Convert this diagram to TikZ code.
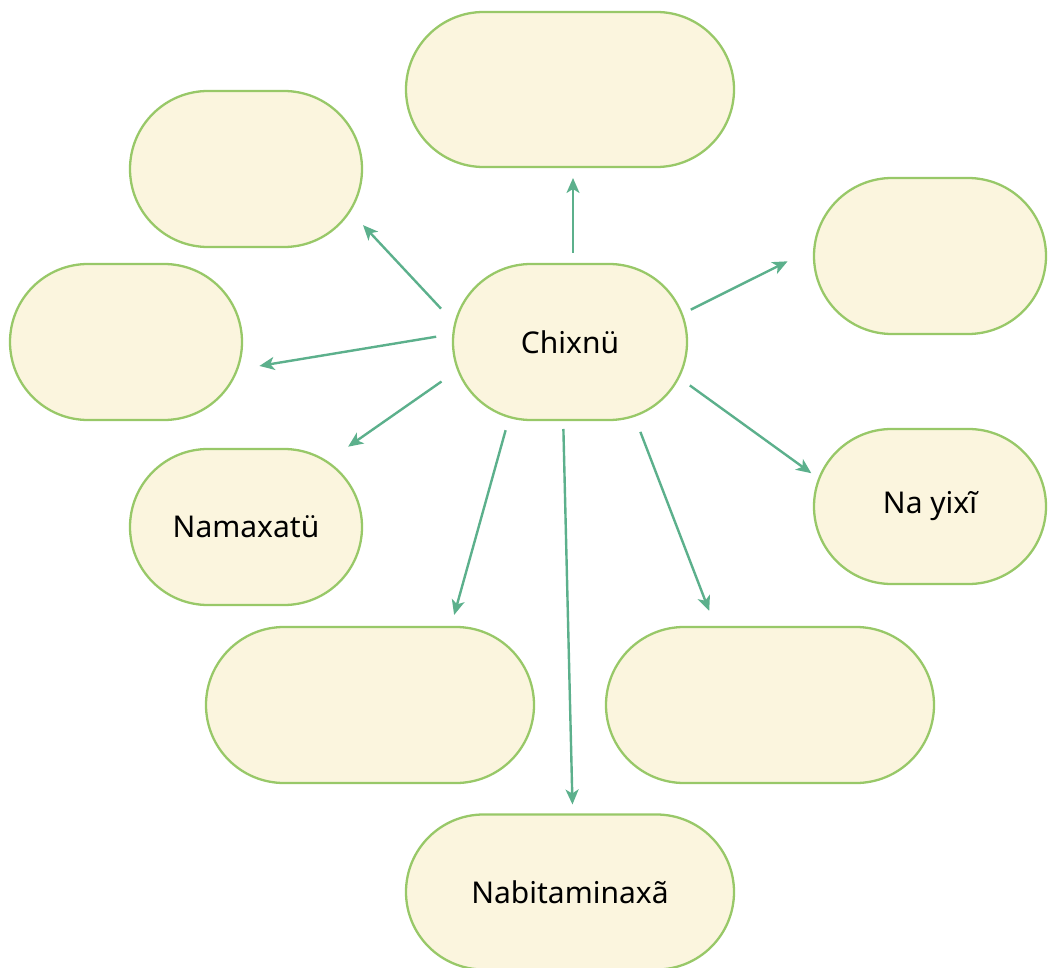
\documentclass[tikz,border=0pt]{standalone}
\usepackage{fontspec}
\setmainfont{Noto Sans}
\usetikzlibrary{shapes.misc,arrows.meta}
\definecolor{bubbleline}{RGB}{152,200,104}
\definecolor{bubblefill}{RGB}{251,245,222}
\definecolor{linkcol}{RGB}{92,176,140}
\begin{document}
\begin{tikzpicture}[x=1pt, y=-1pt,
    bubble/.style={rounded rectangle, draw=bubbleline, fill=bubblefill,
        line width=2.3pt, minimum height=156pt, minimum width=232pt,
        inner sep=0pt, outer sep=0pt, font=\fontsize{30}{33}\selectfont},
    link/.style={draw=linkcol, line width=2.4pt,
        -{Stealth[length=15pt, width=13pt, inset=4pt]}}]
        \useasboundingbox (0,0) rectangle (1050,968);
        % Centre
        \node[bubble, minimum width=234pt] (chixnu) at (570,342) {Chixnü};
        % Around it
        \node[bubble, minimum width=328pt, minimum height=155pt] (top) at (570,89.5) {};
        \node[bubble] (upleft) at (246,169) {}; \node[bubble] (left) at (126,342) {};
        \node[bubble] (namax) at (246,527) {Namaxatü};
        \node[bubble] (rtop) at (930,256) {};
        \node[bubble, minimum height=155pt] (nayixi) at (930,506.5) {Na yixĩ};
        \node[bubble, minimum width=328pt] (botleft) at (370,705) {};
        \node[bubble, minimum width=328pt] (botright) at (770,705) {};
        \node[bubble, minimum width=328pt, minimum height=155pt] (bottom) at (570,892)
        {Nabitaminaxã};

        \draw[link, shorten <=11pt, shorten >=11pt] ([xshift=3pt]chixnu.north) -- ([xshift=3pt]top.south);
        \draw[link, shorten <=20.7pt, shorten >=19.4pt] (chixnu.171) -- (upleft.-22);
        \draw[link, shorten <=17.5pt, shorten >=22.8pt] (chixnu.176.7) -- (left.-14.6);
        \draw[link, shorten <=20.3pt, shorten >=26.2pt] (chixnu.-166.8) -- (namax.39.7);
        \draw[link, shorten <=13.8pt, shorten >=12.5pt] (chixnu.-129.4) -- (botleft.44);
        \draw[link, shorten <=9pt, shorten >=10pt] (chixnu.-95.3) -- (bottom.88.4);
        \draw[link, shorten <=17.2pt, shorten >=17.2pt] (chixnu.-49.2) -- (botright.125.1);
        \draw[link, shorten <=13.9pt, shorten >=9.6pt] (chixnu.-18.9) -- (nayixi.166.4);
        \draw[link, shorten <=10pt, shorten >=30pt] (chixnu.14) -- (rtop.176);
\end{tikzpicture}
\end{document}
